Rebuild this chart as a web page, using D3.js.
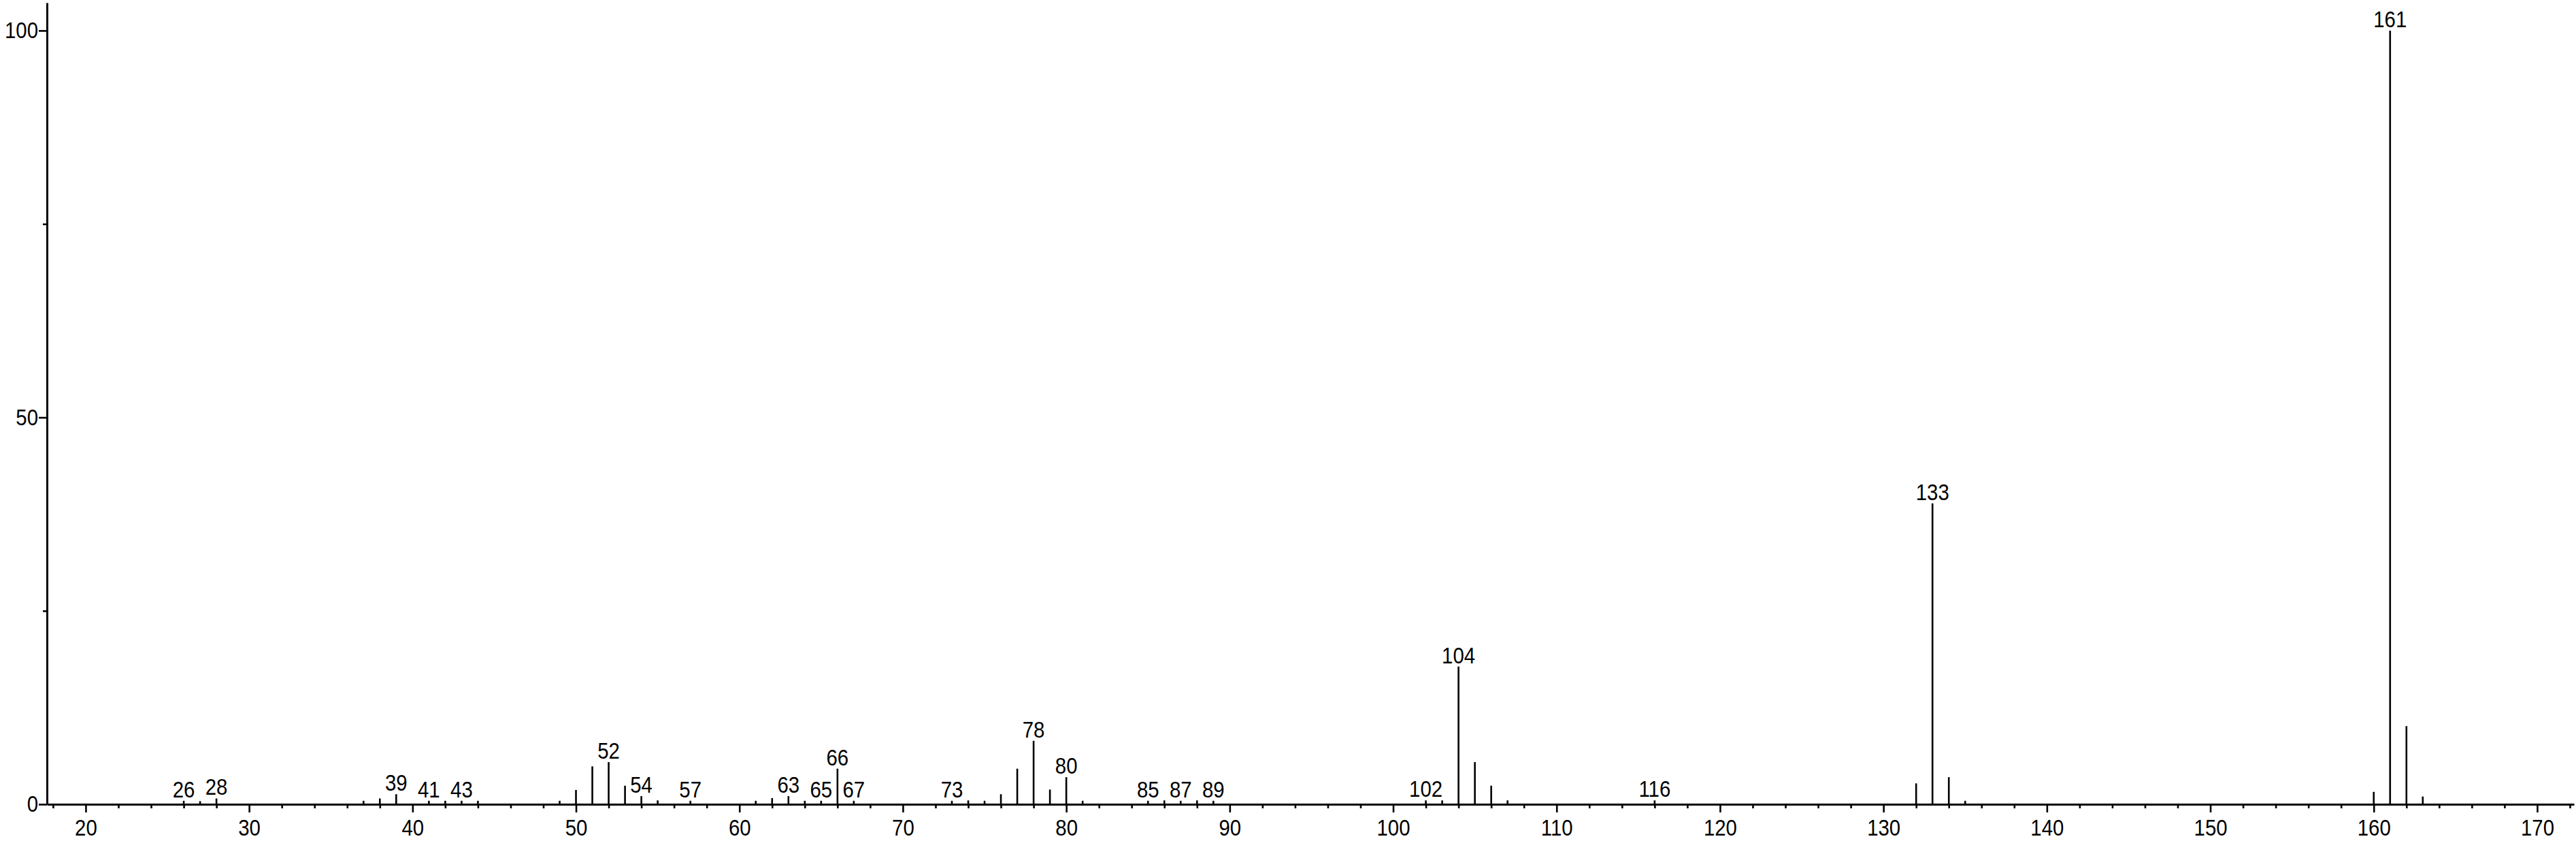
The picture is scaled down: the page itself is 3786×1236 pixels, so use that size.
<!DOCTYPE html>
<html>
<head>
<meta charset="utf-8">
<script src="https://cdn.jsdelivr.net/npm/d3@7"></script>
<style>
    body { margin: 0; background: #fff; }
    svg { display: block; }
    .axis path, .axis line { stroke: #000; }
    .axis text, .label { font-family: "Liberation Sans", Arial, sans-serif; font-size: 34px; fill: #000; }
</style>
</head>
<body>
<div class="container"></div>
<script>
// m/z values and relative intensities (%)
var masses = [26, 27, 28, 37, 38, 39, 41, 42, 43, 44, 49, 50, 51, 52, 53, 54, 55, 57,
    61, 62, 63, 64, 65, 66, 67, 73, 74, 75, 76, 77, 78, 79, 80, 81, 85, 86, 87, 88, 89,
    102, 103, 104, 105, 106, 107, 116, 132, 133, 134, 135, 160, 161, 162, 163];
var intensities = [0.45, 0.4, 0.75, 0.45, 0.75, 1.3, 0.45, 0.45, 0.45, 0.45, 0.45, 1.85, 4.9, 5.45, 2.4, 1.05, 0.5, 0.45,
    0.45, 0.8, 1.05, 0.45, 0.45, 4.6, 0.45, 0.45, 0.5, 0.45, 1.3, 4.6, 8.2, 1.9, 3.5, 0.45, 0.45, 0.5, 0.45, 0.5, 0.45,
    0.5, 0.5, 17.8, 5.45, 2.4, 0.5, 0.5, 2.7, 38.9, 3.5, 0.45, 1.6, 100, 10.1, 1.0];
var labelled = [26, 28, 39, 41, 43, 52, 54, 57, 63, 65, 66, 67, 73, 78, 80, 85, 87, 89, 102, 104, 116, 133, 161];

var xMajor = [20, 30, 40, 50, 60, 70, 80, 90, 100, 110, 120, 130, 140, 150, 160, 170];
var yMajor = [0, 50, 100];
var yMinor = [25, 75];

var config = {
    width: 3786,
    height: 1236,
    left: 69,
    right: 3783,
    top: 4,
    bottom: 1182,
    squeeze: 0.865
};

var peaks = masses.map((m, i) => ({ mz: m, value: intensities[i] }));

var x = d3.scaleLinear().domain([17.63, 172.25]).range([config.left, config.right]);
var y = d3.scaleLinear().domain([0, 103.6]).range([config.bottom, config.top]);

var svg = d3.select(".container").append("svg")
    .attr("width", config.width)
    .attr("height", config.height);

// x axis: major every 10, minor on the even masses in between
var xMinor = d3.range(18, 173, 2).filter((d) => d % 10 !== 0);

svg.append("g")
    .attr("class", "axis")
    .attr("transform", `translate(0,${config.bottom})`)
    .call(d3.axisBottom(x).tickValues(xMinor).tickSize(6).tickSizeOuter(0).tickFormat(""))
    .call((g) => g.select(".domain").remove())
    .selectAll("line").attr("stroke-width", 2.6);

var xAxis = svg.append("g")
    .attr("class", "axis")
    .attr("transform", `translate(0,${config.bottom})`)
    .call(d3.axisBottom(x).tickValues(xMajor).tickSize(12).tickSizeOuter(0).tickPadding(10).tickFormat(d3.format("d")));
xAxis.select(".domain").attr("stroke-width", 3);
xAxis.selectAll("line").attr("stroke-width", 2.6);
xAxis.selectAll("text").attr("transform", `scale(${config.squeeze},1)`);

// y axis
svg.append("g")
    .attr("class", "axis")
    .attr("transform", `translate(${config.left},0)`)
    .call(d3.axisLeft(y).tickValues(yMinor).tickSize(6).tickSizeOuter(0).tickFormat(""))
    .call((g) => g.select(".domain").remove())
    .selectAll("line").attr("stroke-width", 2.6);

var yAxis = svg.append("g")
    .attr("class", "axis")
    .attr("transform", `translate(${config.left},0)`)
    .call(d3.axisLeft(y).tickValues(yMajor).tickSize(12).tickSizeOuter(0).tickPadding(1));
yAxis.select(".domain").attr("stroke-width", 3);
yAxis.selectAll("line").attr("stroke-width", 2.6);
yAxis.selectAll("text")
    .attr("x", -13 / config.squeeze)
    .attr("transform", `scale(${config.squeeze},1)`);

// peaks
svg.append("g")
    .selectAll("line")
    .data(peaks)
    .join("line")
    .attr("x1", (d) => x(d.mz))
    .attr("x2", (d) => x(d.mz))
    .attr("y1", y(0))
    .attr("y2", (d) => y(d.value))
    .attr("stroke", "#000")
    .attr("stroke-width", 2.6);

// peak labels
svg.append("g")
    .selectAll("text")
    .data(peaks.filter((d) => labelled.includes(d.mz)))
    .join("text")
    .attr("class", "label")
    .attr("text-anchor", "middle")
    .attr("transform", (d) => `translate(${x(d.mz)},${y(d.value) - 5}) scale(${config.squeeze},1)`)
    .text((d) => d.mz);
</script>
</body>
</html>
